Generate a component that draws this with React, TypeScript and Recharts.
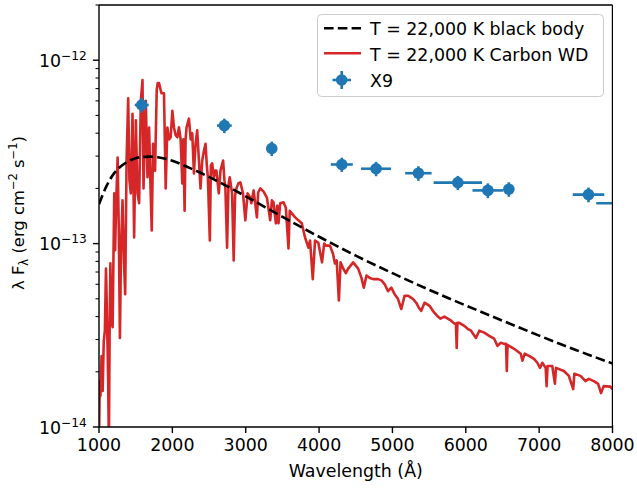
import React from "react";
import { ComposedChart, Line, Scatter, ErrorBar, XAxis, YAxis, ReferenceLine } from "recharts";

const FONT = "'DejaVu Sans', sans-serif";
const FS = 17.4;
const BLUE = "#1f77b4";
const RED = "#d62728";

// Achsen
const xTicks = [1000, 2000, 3000, 4000, 5000, 6000, 7000, 8000];
const yMajorTicks = [1e-14, 1e-13, 1e-12];
const yMajorExponents = ["−14", "−13", "−12"];
const yMinorTicks = [
  2e-14, 3e-14, 4e-14, 5e-14, 6e-14, 7e-14, 8e-14, 9e-14,
  2e-13, 3e-13, 4e-13, 5e-13, 6e-13, 7e-13, 8e-13, 9e-13,
  2e-12,
];

// Schwarzkörper 22 000 K
const bbWavelength = [1000, 1100, 1200, 1300, 1400, 1500, 1600, 1700, 1800, 2000, 2250, 2500, 2750, 3000, 3500, 4000, 4500, 5000, 5500, 6000, 6500, 7000, 7500, 8000];
const bbFlux = [1.64e-13, 2.05e-13, 2.4e-13, 2.64e-13, 2.81e-13, 2.92e-13, 2.97e-13, 2.98e-13, 2.96e-13, 2.83e-13, 2.57e-13, 2.31e-13, 2.05e-13, 1.81e-13, 1.4e-13, 1.09e-13, 8.6e-14, 6.9e-14, 5.6e-14, 4.6e-14, 3.8e-14, 3.15e-14, 2.63e-14, 2.22e-14];

// Carbon-WD Modellspektrum
const wdWavelength = [
  1000, 1010, 1020, 1035, 1050, 1065, 1080, 1095, 1105, 1115, 1125, 1135, 1145, 1155, 1170, 1186, 1195, 1208, 1220, 1235,
  1254, 1270, 1285, 1300, 1321, 1340, 1357, 1376, 1398, 1415, 1434, 1457, 1479, 1502, 1525, 1547, 1570, 1593, 1607, 1625,
  1638, 1661, 1683, 1700, 1719, 1737, 1764, 1787, 1800, 1818, 1851, 1886, 1909, 1932, 1955, 1977, 2000, 2022, 2045, 2068,
  2090, 2113, 2136, 2150, 2167, 2180, 2194, 2226, 2250, 2271, 2294, 2316, 2339, 2362, 2384, 2407, 2430, 2452, 2470, 2484,
  2511, 2525, 2543, 2565, 2585, 2601, 2633, 2656, 2692, 2710, 2723, 2746, 2765, 2782, 2814, 2836, 2855, 2873, 2900, 2927,
  2963, 2995, 3026, 3063, 3076, 3108, 3153, 3170, 3199, 3244, 3289, 3334, 3357, 3379, 3411, 3430, 3447, 3470, 3515, 3547,
  3583, 3600, 3674, 3764, 3809, 3855, 3877, 3914, 3945, 3990, 4040, 4070, 4094, 4148, 4190, 4216, 4240, 4270, 4293, 4330,
  4365, 4397, 4465, 4533, 4578, 4610, 4646, 4691, 4736, 4804, 4850, 4895, 4940, 4985, 5030, 5075, 5121, 5166, 5211, 5279,
  5324, 5360, 5393, 5438, 5506, 5551, 5619, 5655, 5709, 5754, 5800, 5845, 5866, 5876, 5886, 5912, 5980, 6025, 6071, 6139,
  6184, 6252, 6319, 6387, 6432, 6478, 6523, 6549, 6559, 6569, 6591, 6659, 6749, 6772, 6804, 6862, 6930, 6975, 7012, 7043,
  7089, 7102, 7115, 7179, 7215, 7230, 7337, 7405, 7464, 7480, 7564, 7632, 7677, 7745, 7804, 7844, 7880, 7970, 8000,
];
const wdFlux = [
  8e-15, 1.78e-14, 1.48e-14, 2.44e-14, 1.57e-14, 2.95e-14, 3.35e-14, 7.3e-14, 4.9e-14, 2.95e-14, 1.78e-14, 8e-15, 3.35e-14, 7.8e-14, 3.8e-14, 3.5e-14, 7.1e-14, 1.88e-13, 9.2e-14, 1.72e-13,
  2.95e-13, 1.18e-13, 3.06e-14, 9.2e-14, 1.72e-13, 8.1e-14, 5.3e-14, 2.84e-13, 6.2e-13, 2.21e-13, 1.88e-13, 5.1e-13, 1.08e-13, 4.7e-13, 1.88e-13, 1.66e-13, 6.0e-13, 7.8e-13, 2.0e-13, 4.15e-13,
  6.0e-13, 2.3e-13, 4.3e-13, 2.2e-13, 1.18e-13, 3.5e-13, 2.5e-13, 6.9e-13, 7.5e-13, 7.5e-13, 6.6e-13, 6.6e-13, 2.0e-13, 4.3e-13, 3.7e-13, 3.8e-13, 5.3e-13, 4.3e-13, 3.9e-13, 3.8e-13,
  4.3e-13, 3.7e-13, 2.13e-13, 3.7e-13, 1.51e-13, 3.7e-13, 4.3e-13, 4.8e-13, 3.7e-13, 4.0e-13, 2.41e-13, 3.5e-13, 4.15e-13, 2.84e-13, 2.0e-13, 2.84e-13, 3.2e-13, 3.5e-13, 2.67e-13, 2.3e-13,
  1.04e-13, 2.67e-13, 2.74e-13, 2.3e-13, 2.5e-13, 2.5e-13, 1.88e-13, 2.5e-13, 2.84e-13, 2.21e-13, 2.0e-13, 9.5e-14, 2.08e-13, 2.3e-13, 1.88e-13, 8.1e-14, 1.83e-13, 2.0e-13, 2.13e-13, 2.16e-13,
  1.88e-13, 1.34e-13, 1.88e-13, 1.78e-13, 1.66e-13, 1.95e-13, 1.39e-13, 1.9e-13, 2.0e-13, 1.92e-13, 1.78e-13, 1.34e-13, 1.72e-13, 1.68e-13, 1.29e-13, 1.61e-13, 1.29e-13, 1.66e-13, 1.68e-13, 1.57e-13,
  9.4e-14, 1.51e-13, 1.39e-13, 1.29e-13, 1.08e-13, 9.5e-14, 1.04e-13, 6.4e-14, 1.04e-13, 1.01e-13, 7.9e-14, 1.0e-13, 9.75e-14, 9.75e-14, 8.8e-14, 7.8e-14, 8.1e-14, 4.9e-14, 7.9e-14, 7.3e-14,
  6.9e-14, 7.3e-14, 7.9e-14, 7.3e-14, 6.5e-14, 5.75e-14, 6.7e-14, 6.5e-14, 6.4e-14, 6.4e-14, 6.3e-14, 6.0e-14, 5.5e-14, 5.75e-14, 5.3e-14, 5.0e-14, 4.4e-14, 5.2e-14, 5.2e-14, 5.0e-14,
  4.76e-14, 4.47e-14, 4.3e-14, 4.76e-14, 4.58e-14, 4.3e-14, 4.0e-14, 3.9e-14, 4.0e-14, 3.9e-14, 3.8e-14, 3.66e-14, 3.66e-14, 2.7e-14, 3.7e-14, 3.7e-14, 3.56e-14, 3.43e-14, 3.35e-14, 3.06e-14,
  3.35e-14, 3.27e-14, 3.14e-14, 3.03e-14, 2.77e-14, 2.88e-14, 2.84e-14, 2.84e-14, 2.02e-14, 2.8e-14, 2.77e-14, 2.67e-14, 2.51e-14, 2.3e-14, 2.51e-14, 2.44e-14, 2.35e-14, 2.24e-14, 2.1e-14, 2.24e-14,
  2.1e-14, 1.67e-14, 2.15e-14, 2.15e-14, 1.72e-14, 2.1e-14, 2.02e-14, 1.9e-14, 1.61e-14, 1.95e-14, 1.9e-14, 1.78e-14, 1.83e-14, 1.78e-14, 1.72e-14, 1.53e-14, 1.67e-14, 1.66e-14, 1.61e-14,
];

// X9 Photometrie
const x9Wavelength = [1582, 2709, 3355, 4310, 4777, 5354, 5892, 6301, 6587, 7673, 8150];
const x9WavelengthErr = [95, 100, 50, 150, 205, 180, 330, 210, 65, 215, 372];
const x9Flux = [5.7e-13, 4.4e-13, 3.3e-13, 2.7e-13, 2.56e-13, 2.42e-13, 2.15e-13, 1.95e-13, 1.98e-13, 1.85e-13, 1.66e-13];
const x9FluxErr = [5.2e-14, 4.0e-14, 3.0e-14, 2.4e-14, 2.3e-14, 2.2e-14, 1.9e-14, 1.8e-14, 1.8e-14, 1.7e-14, 1.5e-14];

const blackBody = bbWavelength.map((wl, i) => ({ wl, bb: bbFlux[i] }));
const carbonWD = wdWavelength.map((wl, i) => ({ wl, wd: wdFlux[i] }));
const x9 = x9Wavelength.map((wl, i) => ({ wl, x9: x9Flux[i], wlErr: x9WavelengthErr[i], fluxErr: x9FluxErr[i] }));

const YTick = (props: any) => {
  const { x, y, payload } = props;
  const idx = yMajorTicks.findIndex((t) => Math.abs(t - payload.value) / t < 1e-6);
  const major = idx >= 0;
  return (
    <g>
      <line x1={x} x2={x - (major ? 6.1 : 3.5)} y1={y} y2={y} stroke="#000" strokeWidth={major ? 1.4 : 1.05} />
      {major && (
        <text x={x - 12.2} y={y + 6.5} textAnchor="end" fontFamily={FONT} fontSize={FS} fill="#000">
          <tspan>10</tspan>
          <tspan dy={-7} fontSize={12.2}>{yMajorExponents[idx]}</tspan>
        </text>
      )}
    </g>
  );
};

const XLabel = (props: any) => {
  const vb = props.viewBox || { x: 99, y: 427, width: 513.5 };
  return (
    <text x={vb.x + vb.width / 2} y={vb.y + 50} textAnchor="middle" fontFamily={FONT} fontSize={FS} fill="#000">
      Wavelength (Å)
    </text>
  );
};

const YLabel = (props: any) => {
  const vb = props.viewBox || { y: 5, height: 422 };
  const cy = vb.y + vb.height / 2 - 3;
  return (
    <text transform={`translate(24, ${cy}) rotate(-90)`} textAnchor="middle" fontFamily={FONT} fontSize={16.4} fill="#000">
      <tspan>λ F</tspan>
      <tspan fontSize={11.5} dy={4}>λ</tspan>
      <tspan dy={-4}> (erg cm</tspan>
      <tspan fontSize={11.5} dy={-7}>−2</tspan>
      <tspan dy={7}> s</tspan>
      <tspan fontSize={11.5} dy={-7}>−1</tspan>
      <tspan dy={7}>)</tspan>
    </text>
  );
};

function LegendBox() {
  return (
    <svg width={288} height={84} style={{ position: "absolute", left: 317, top: 14 }}>
      <rect x={0.5} y={0.5} width={286} height={82} rx={4} fill="rgba(255,255,255,0.8)" stroke="#cccccc" />
      <line x1={7} x2={44} y1={14.3} y2={14.3} stroke="#000" strokeWidth={2.6} strokeDasharray="9.6 4.2" />
      <line x1={7} x2={44} y1={39.3} y2={39.3} stroke={RED} strokeWidth={2.6} />
      <line x1={15.5} x2={34} y1={66} y2={66} stroke={BLUE} strokeWidth={2.6} />
      <line x1={24.7} x2={24.7} y1={57} y2={75} stroke={BLUE} strokeWidth={2.6} />
      <circle cx={24.7} cy={66} r={5.8} fill={BLUE} />
      <g fontFamily={FONT} fontSize={FS} fill="#000">
        <text x={53} y={21}>T = 22,000 K black body</text>
        <text x={53} y={46.7}>T = 22,000 K Carbon WD</text>
        <text x={53} y={73.3}>X9</text>
      </g>
    </svg>
  );
}

export default function App() {
  return (
    <div style={{ position: "absolute", left: 0, top: 0, width: 637, height: 489, background: "#fff" }}>
      <ComposedChart width={637} height={489} margin={{ top: 5, right: 24.5, bottom: 0, left: 0 }}>
        <XAxis
          type="number"
          dataKey="wl"
          domain={[1000, 8000]}
          ticks={xTicks}
          interval={0}
          allowDataOverflow
          height={62}
          tick={{ fill: "#000", fontSize: FS, fontFamily: FONT }}
          tickLine={{ stroke: "#000", strokeWidth: 1.4 }}
          tickSize={6.1}
          tickMargin={6}
          axisLine={{ stroke: "#000", strokeWidth: 1.4 }}
          label={<XLabel />}
        />
        <YAxis
          type="number"
          scale="log"
          domain={[1e-14, 2e-12]}
          allowDataOverflow
          width={99}
          ticks={[...yMajorTicks, ...yMinorTicks].sort((a, b) => a - b)}
          interval={0}
          tick={<YTick />}
          tickLine={false}
          tickSize={0}
          tickMargin={0}
          axisLine={{ stroke: "#000", strokeWidth: 1.4 }}
          label={<YLabel />}
        />
        <Line data={carbonWD} dataKey="wd" type="linear" stroke={RED} strokeWidth={2.6} dot={false} activeDot={false} strokeLinejoin="round" isAnimationActive={false} />
        <Line data={blackBody} dataKey="bb" type="monotone" stroke="#000" strokeWidth={2.6} strokeDasharray="9.6 4.2" dot={false} activeDot={false} isAnimationActive={false} />
        <Scatter
          data={x9}
          dataKey="x9"
          fill={BLUE}
          isAnimationActive={false}
          shape={(p: any) => <circle cx={p.cx} cy={p.cy} r={5.8} fill={BLUE} />}
        >
          <ErrorBar dataKey="wlErr" direction="x" width={0} stroke={BLUE} strokeWidth={2.6} isAnimationActive={false} />
          <ErrorBar dataKey="fluxErr" direction="y" width={0} stroke={BLUE} strokeWidth={2.6} isAnimationActive={false} />
        </Scatter>
        <ReferenceLine y={2e-12} stroke="#000" strokeWidth={1.4} />
        <ReferenceLine x={8000} stroke="#000" strokeWidth={1.4} />
      </ComposedChart>
      {/* Fehlerbalken rechts außerhalb der Achse abdecken */}
      <div style={{ position: "absolute", left: 613.3, top: 0, width: 24, height: 425, background: "#fff" }} />
      <LegendBox />
    </div>
  );
}
